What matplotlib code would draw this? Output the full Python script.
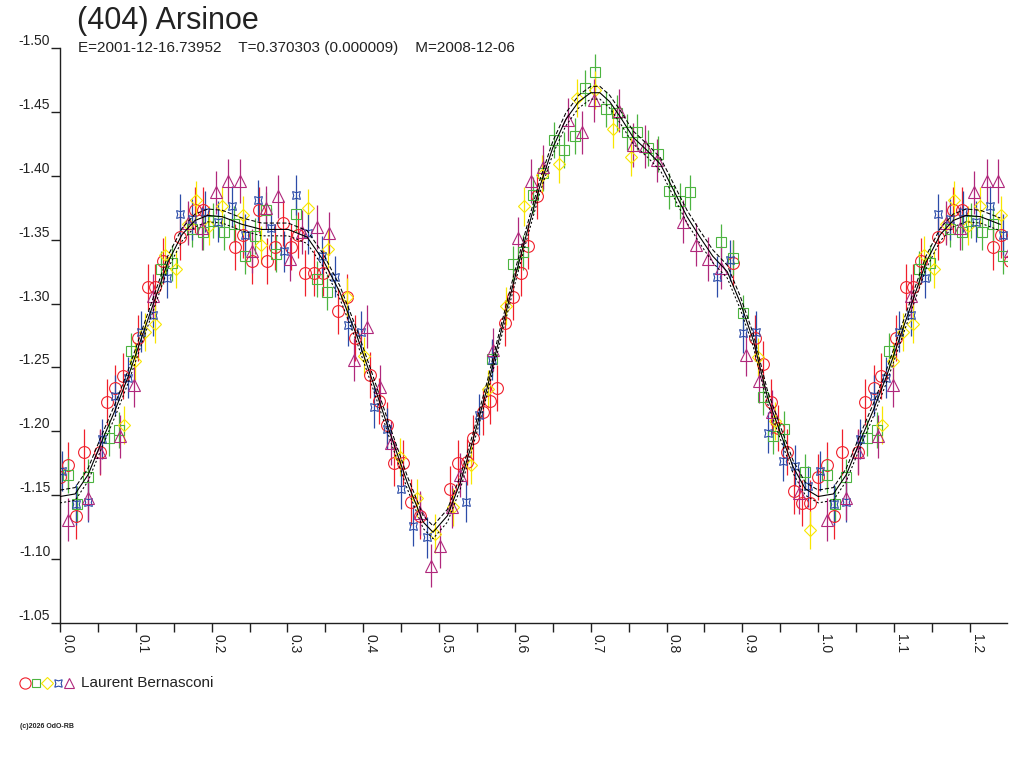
import numpy as np
import matplotlib.pyplot as plt
from matplotlib.ticker import MultipleLocator, FormatStrFormatter

plt.rcParams['font.family'] = ['Liberation Sans', 'DejaVu Sans']

titel = '(404) Arsinoe'
ondertitel = 'E=2001-12-16.73952    T=0.370303 (0.000009)    M=2008-12-06'
waarnemer = 'Laurent Bernasconi'
copyright_tekst = '(c)2026 OdO-RB'

# fit (fase, magnitude)
fit_fase = [0.000, 0.020, 0.037, 0.055, 0.073, 0.090, 0.108, 0.125, 0.142, 0.161,
            0.178, 0.195, 0.214, 0.240, 0.266, 0.301, 0.326, 0.347, 0.369, 0.392,
            0.413, 0.435, 0.458, 0.479, 0.492, 0.511, 0.528, 0.545, 0.563, 0.580,
            0.598, 0.616, 0.633, 0.650, 0.667, 0.684, 0.700, 0.712, 0.725, 0.739,
            0.756, 0.774, 0.792, 0.809, 0.827, 0.844, 0.861, 0.880, 0.897, 0.914,
            0.933, 0.950, 0.967, 0.983, 1.000]
fit_mag = [-1.149, -1.151, -1.166, -1.192, -1.217, -1.243, -1.274, -1.303, -1.332, -1.354,
           -1.365, -1.369, -1.368, -1.362, -1.358, -1.358, -1.352, -1.334, -1.309, -1.274,
           -1.238, -1.199, -1.160, -1.129, -1.121, -1.134, -1.160, -1.194, -1.233, -1.274,
           -1.316, -1.356, -1.392, -1.422, -1.444, -1.458, -1.465, -1.465, -1.458, -1.446,
           -1.430, -1.420, -1.409, -1.389, -1.368, -1.352, -1.337, -1.325, -1.301, -1.272,
           -1.227, -1.199, -1.172, -1.155, -1.149]
fit_marge = 0.005

# metingen per sessie
rood_fase = [0.000, 0.011, 0.021, 0.032, 0.053, 0.062, 0.073, 0.083, 0.103, 0.116,
             0.125, 0.136, 0.158, 0.178, 0.189, 0.231, 0.241, 0.253, 0.263, 0.273,
             0.284, 0.294, 0.305, 0.314, 0.323, 0.335, 0.347, 0.367, 0.379, 0.389,
             0.409, 0.421, 0.431, 0.441, 0.453, 0.463, 0.475, 0.515, 0.525, 0.537,
             0.545, 0.558, 0.567, 0.577, 0.587, 0.598, 0.608, 0.617, 0.629, 0.887,
             0.917, 0.927, 0.938, 0.947, 0.959, 0.968, 0.979, 0.989]
rood_mag = [-1.164, -1.174, -1.134, -1.184, -1.184, -1.223, -1.234, -1.243, -1.273, -1.313,
            -1.313, -1.333, -1.352, -1.373, -1.373, -1.344, -1.354, -1.333, -1.373, -1.333,
            -1.344, -1.363, -1.344, -1.354, -1.324, -1.324, -1.324, -1.294, -1.305, -1.273,
            -1.244, -1.224, -1.205, -1.175, -1.175, -1.145, -1.134, -1.155, -1.175, -1.176,
            -1.195, -1.215, -1.224, -1.234, -1.285, -1.305, -1.324, -1.345, -1.384, -1.332,
            -1.273, -1.253, -1.223, -1.203, -1.184, -1.153, -1.144, -1.144]

groen_fase = [0.011, 0.022, 0.037, 0.065, 0.078, 0.094, 0.133, 0.148, 0.174, 0.189,
              0.202, 0.216, 0.230, 0.244, 0.257, 0.272, 0.285, 0.311, 0.339, 0.352,
              0.570, 0.598, 0.611, 0.624, 0.637, 0.652, 0.665, 0.679, 0.693, 0.706,
              0.720, 0.734, 0.748, 0.761, 0.776, 0.789, 0.803, 0.818, 0.831, 0.872,
              0.887, 0.901, 0.927, 0.941, 0.955, 0.982]
groen_mag = [-1.166, -1.143, -1.164, -1.195, -1.201, -1.263, -1.327, -1.332, -1.358, -1.356,
             -1.365, -1.356, -1.362, -1.337, -1.353, -1.373, -1.339, -1.370, -1.319, -1.309,
             -1.257, -1.331, -1.340, -1.385, -1.402, -1.428, -1.420, -1.431, -1.469, -1.481,
             -1.452, -1.449, -1.434, -1.434, -1.422, -1.417, -1.388, -1.380, -1.387, -1.348,
             -1.336, -1.293, -1.227, -1.196, -1.202, -1.168]

geel_fase = [0.084, 0.099, 0.112, 0.125, 0.139, 0.153, 0.169, 0.179, 0.197, 0.214,
             0.241, 0.265, 0.327, 0.354, 0.379, 0.401, 0.449, 0.471, 0.495, 0.518,
             0.542, 0.565, 0.588, 0.612, 0.636, 0.658, 0.682, 0.706, 0.730, 0.753,
             0.920, 0.943, 0.989]
geel_mag = [-1.205, -1.255, -1.278, -1.284, -1.338, -1.327, -1.362, -1.381, -1.361, -1.376,
            -1.369, -1.346, -1.375, -1.343, -1.305, -1.259, -1.180, -1.148, -1.120, -1.141,
            -1.174, -1.233, -1.298, -1.376, -1.401, -1.409, -1.461, -1.467, -1.437, -1.415,
            -1.258, -1.208, -1.123]

blauw_fase = [0.003, 0.021, 0.037, 0.055, 0.073, 0.090, 0.107, 0.123, 0.141, 0.158,
              0.174, 0.191, 0.208, 0.227, 0.244, 0.261, 0.278, 0.296, 0.311, 0.327,
              0.346, 0.363, 0.380, 0.397, 0.414, 0.431, 0.450, 0.466, 0.484, 0.536,
              0.553, 0.570, 0.867, 0.884, 0.901, 0.918, 0.934, 0.953, 0.970, 0.987]
blauw_mag = [-1.169, -1.143, -1.145, -1.194, -1.228, -1.242, -1.278, -1.291, -1.320, -1.370,
             -1.366, -1.372, -1.364, -1.376, -1.354, -1.381, -1.359, -1.341, -1.385, -1.355,
             -1.337, -1.321, -1.283, -1.278, -1.219, -1.202, -1.155, -1.126, -1.117, -1.145,
             -1.213, -1.256, -1.321, -1.334, -1.277, -1.278, -1.199, -1.177, -1.173, -1.157]

paars_fase = [0.011, 0.037, 0.053, 0.079, 0.098, 0.123, 0.169, 0.187, 0.206, 0.222,
              0.237, 0.253, 0.272, 0.288, 0.303, 0.319, 0.339, 0.355, 0.388, 0.405,
              0.422, 0.437, 0.475, 0.489, 0.501, 0.517, 0.528, 0.571, 0.604, 0.621,
              0.637, 0.670, 0.689, 0.704, 0.737, 0.756, 0.772, 0.788, 0.822, 0.839,
              0.855, 0.872, 0.905, 0.922, 0.939, 0.975]
paars_mag = [-1.131, -1.148, -1.184, -1.196, -1.236, -1.306, -1.363, -1.359, -1.387, -1.396,
             -1.396, -1.341, -1.375, -1.384, -1.335, -1.356, -1.360, -1.355, -1.256, -1.282,
             -1.235, -1.191, -1.136, -1.095, -1.110, -1.141, -1.166, -1.264, -1.351, -1.396,
             -1.407, -1.444, -1.434, -1.459, -1.451, -1.424, -1.423, -1.412, -1.364, -1.346,
             -1.335, -1.328, -1.260, -1.239, -1.215, -1.152]

sessies = [
    (rood_fase, rood_mag, 0.018, '#f0202c', 'o', 8.5),
    (groen_fase, groen_mag, 0.014, '#4cb440', 's', 6.5),
    (geel_fase, geel_mag, 0.015, '#f8e600', 'D', 6.5),
    (blauw_fase, blauw_mag, 0.016, '#2c4ca8', (4, 1, 45), 8.0),
    (paars_fase, paars_mag, 0.017, '#b0287c', '^', 8.0),
]

x_max = 1.249


def herhaal(fase, waarde):
    # fase > 1 is een kopie van het begin van de lichtcurve
    fase = np.array(fase)
    waarde = np.array(waarde)
    extra = fase + 1.0 <= x_max + 0.01
    return np.concatenate([fase, fase[extra] + 1.0]), np.concatenate([waarde, waarde[extra]])


fig = plt.figure(figsize=(10.24, 7.68), dpi=100)
ax = fig.add_axes([60 / 1024, 1 - 623 / 768, 947 / 1024, 575 / 768])

for fase, mag, fout, kleur, teken, grootte in sessies:
    f, m = herhaal(fase, mag)
    ax.errorbar(f, m, yerr=fout, fmt='', marker=teken, linestyle='none', mfc='none',
                mec=kleur, ecolor=kleur, ms=grootte, mew=0.8, elinewidth=0.9,
                capsize=0, zorder=2)

ff, fm = herhaal(fit_fase[:-1], fit_mag[:-1])
orde = np.argsort(ff)
ff, fm = ff[orde], fm[orde]
ax.plot(ff, fm, color='black', lw=0.8, zorder=4)
ax.plot(ff, fm - fit_marge, color='black', lw=0.75, ls=(0, (4, 2)), zorder=4)
ax.plot(ff, fm + fit_marge, color='black', lw=0.75, ls=(0, (2, 2)), zorder=4)

ax.set_xlim(0, x_max)
ax.set_ylim(-1.05, -1.50)

for s in ['top', 'right']:
    ax.spines[s].set_visible(False)
for s in ['left', 'bottom']:
    ax.spines[s].set_color('#202020')
    ax.spines[s].set_linewidth(1.0)

ax.xaxis.set_major_locator(MultipleLocator(0.1))
ax.xaxis.set_minor_locator(MultipleLocator(0.05))
ax.xaxis.set_major_formatter(FormatStrFormatter('%.1f'))
ax.yaxis.set_major_locator(MultipleLocator(0.05))
ax.yaxis.set_major_formatter(FormatStrFormatter('%.2f'))

ax.tick_params(axis='x', which='both', direction='out', length=6.5, width=1,
               color='#202020', labelsize=10, labelcolor='#222222', pad=1.5,
               labelrotation=270)
ax.tick_params(axis='y', direction='out', length=6.5, width=1, color='#202020',
               labelsize=10, labelcolor='#222222', pad=0.5)
for lab in ax.get_xticklabels():
    lab.set_ha('left')
    lab.set_va('top')
for lab in ax.get_yticklabels():
    lab.set_va('bottom')

fig.text(77 / 1024, 1 - 21 / 768, titel, fontsize=22, color='#222222', va='center', ha='left')
fig.text(78 / 1024, 1 - 48 / 768, ondertitel, fontsize=11, color='#222222', va='center', ha='left')

# legenda onder de grafiek
lax = fig.add_axes([0, 0, 1, 1])
lax.set_xlim(0, 1024)
lax.set_ylim(768, 0)
lax.axis('off')
leg_x = [25, 36, 47, 58, 69]
for (fase, mag, fout, kleur, teken, grootte), lx in zip(sessies, leg_x):
    lax.plot([lx], [683], marker=teken, mfc='none', mec=kleur, ms=grootte * 0.95, mew=0.8, ls='none')
lax.text(81, 683, waarnemer, fontsize=11, color='#222222', va='center', ha='left')
lax.text(20, 726, copyright_tekst, fontsize=5, color='#222222', va='center', ha='left',
         fontweight='bold')

fig.savefig('out.png', dpi=100)
